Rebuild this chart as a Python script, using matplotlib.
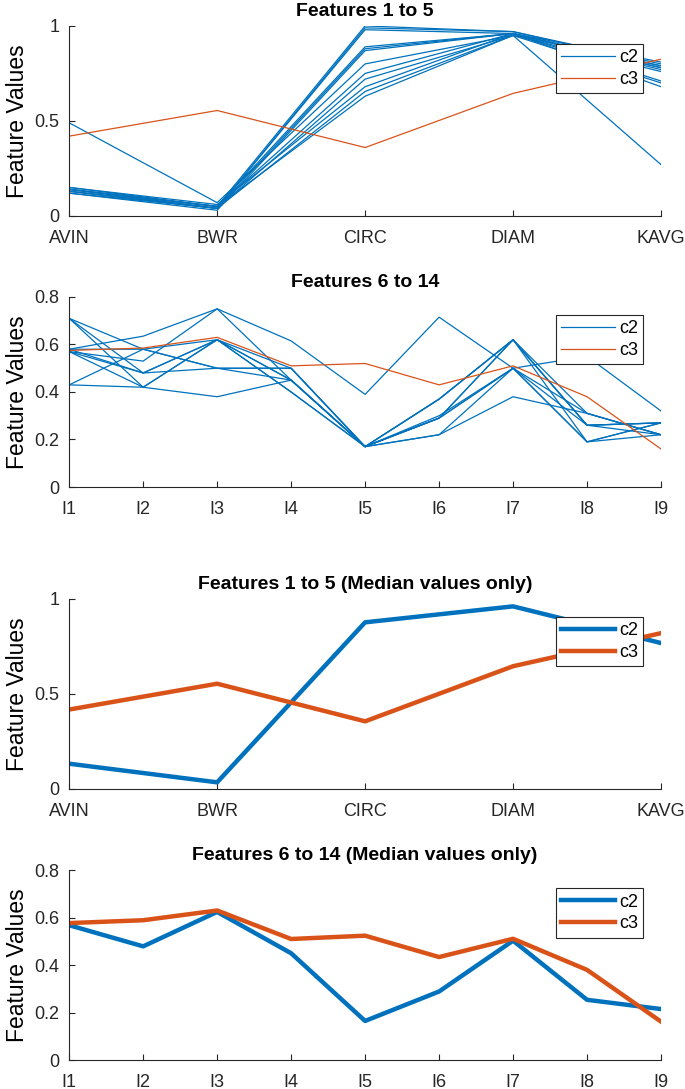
import numpy as np
from matplotlib import pyplot as plt

# feature names
feat_a = ["AVIN", "BWR", "CIRC", "DIAM", "KAVG"]
feat_b = ["I1", "I2", "I3", "I4", "I5", "I6", "I7", "I8", "I9"]

# class c2 samples, features 1 to 5
c2_a = [
    [0.49, 0.07, 0.80, 0.95, 0.27],
    [0.15, 0.05, 1.00, 0.97, 0.80],
    [0.14, 0.04, 0.99, 0.97, 0.79],
    [0.13, 0.04, 0.98, 0.96, 0.81],
    [0.14, 0.05, 0.89, 0.96, 0.78],
    [0.13, 0.04, 0.88, 0.96, 0.77],
    [0.12, 0.03, 0.87, 0.96, 0.78],
    [0.14, 0.05, 0.75, 0.96, 0.71],
    [0.13, 0.04, 0.72, 0.95, 0.70],
    [0.15, 0.06, 0.68, 0.96, 0.68],
    [0.12, 0.04, 0.655, 0.95, 0.79],
    [0.14, 0.05, 0.63, 0.95, 0.76],
]
# class c3 sample, features 1 to 5
c3_a = [0.42, 0.555, 0.36, 0.645, 0.825]

# class c2 samples, features 6 to 14
c2_b = [
    [0.71, 0.48, 0.62, 0.45, 0.17, 0.29, 0.62, 0.26, 0.27],
    [0.71, 0.42, 0.62, 0.40, 0.17, 0.22, 0.50, 0.19, 0.22],
    [0.71, 0.58, 0.50, 0.50, 0.17, 0.37, 0.62, 0.31, 0.22],
    [0.58, 0.635, 0.75, 0.615, 0.39, 0.715, 0.50, 0.55, 0.32],
    [0.57, 0.53, 0.75, 0.45, 0.17, 0.29, 0.62, 0.19, 0.27],
    [0.58, 0.48, 0.62, 0.45, 0.17, 0.30, 0.50, 0.26, 0.22],
    [0.57, 0.42, 0.62, 0.40, 0.17, 0.37, 0.62, 0.26, 0.27],
    [0.43, 0.42, 0.38, 0.45, 0.17, 0.22, 0.38, 0.31, 0.22],
    [0.43, 0.58, 0.50, 0.50, 0.17, 0.29, 0.50, 0.19, 0.27],
    [0.57, 0.48, 0.50, 0.45, 0.17, 0.29, 0.50, 0.31, 0.22],
    [0.58, 0.58, 0.62, 0.50, 0.17, 0.37, 0.62, 0.26, 0.27],
]
c3_b = [0.575, 0.585, 0.63, 0.51, 0.52, 0.43, 0.51, 0.38, 0.16]

# median values
med_c2_a = [0.133, 0.035, 0.877, 0.961, 0.768]
med_c3_a = [0.418, 0.554, 0.356, 0.646, 0.82]
med_c2_b = [0.568, 0.479, 0.624, 0.45, 0.165, 0.289, 0.503, 0.254, 0.215]
med_c3_b = [0.577, 0.589, 0.63, 0.51, 0.524, 0.434, 0.511, 0.38, 0.162]

blue = "#0072BD"
orange = "#D95319"
axcol = "#262626"

plt.rcParams["font.family"] = ["Liberation Sans", "DejaVu Sans"]
plt.rcParams["savefig.dpi"] = 100

fig = plt.figure(figsize=(6.85, 10.89))

def panel(rect, names, c2, c3, ymax, yticks, title, lw):
    ax = fig.add_axes(rect)
    x = np.arange(1, len(names) + 1)
    for i, row in enumerate(c2):
        ax.plot(x, row, color=blue, lw=lw, label="c2" if i == 0 else None)
    ax.plot(x, c3, color=orange, lw=lw, label="c3")
    ax.set_xlim(1, len(names))
    ax.set_ylim(0, ymax)
    ax.set_xticks(x)
    ax.set_xticklabels(names)
    ax.set_yticks(yticks)
    ax.set_yticklabels(["0" if t == 0 else ("1" if t == 1 else str(t)) for t in yticks])
    ax.spines["top"].set_visible(False)
    ax.spines["right"].set_visible(False)
    for s in ["left", "bottom"]:
        ax.spines[s].set_color(axcol)
        ax.spines[s].set_linewidth(0.8)
    ax.tick_params(direction="in", length=4, width=0.8, colors=axcol, labelsize=13)
    ax.tick_params(axis="x", pad=10)
    ax.tick_params(axis="y", pad=7)
    ax.set_title(title, fontsize=14, fontweight="bold", pad=7)
    ax.set_ylabel("Feature Values", fontsize=16.5, labelpad=4)
    leg = ax.legend(loc="upper right", bbox_to_anchor=(0.97, 0.905), fontsize=13,
                    handlelength=3.0, fancybox=False, framealpha=1, borderpad=0.3,
                    labelspacing=0.25, handletextpad=0.2, borderaxespad=0)
    leg.get_frame().set_edgecolor(axcol)
    leg.get_frame().set_linewidth(0.8)
    return ax

left, width = 0.101, 0.864
panel([left, 0.8017, width, 0.1745], feat_a, c2_a, c3_a, 1, [0, 0.5, 1], "Features 1 to 5", 0.9)
panel([left, 0.5528, width, 0.1745], feat_b, c2_b, c3_b, 0.8, [0, 0.2, 0.4, 0.6, 0.8], "Features 6 to 14", 0.9)
panel([left, 0.2755, width, 0.1745], feat_a, [med_c2_a], med_c3_a, 1, [0, 0.5, 1],
      "Features 1 to 5 (Median values only)", 3.2)
panel([left, 0.0265, width, 0.1745], feat_b, [med_c2_b], med_c3_b, 0.8, [0, 0.2, 0.4, 0.6, 0.8],
      "Features 6 to 14 (Median values only)", 3.2)

plt.savefig("out.png")
